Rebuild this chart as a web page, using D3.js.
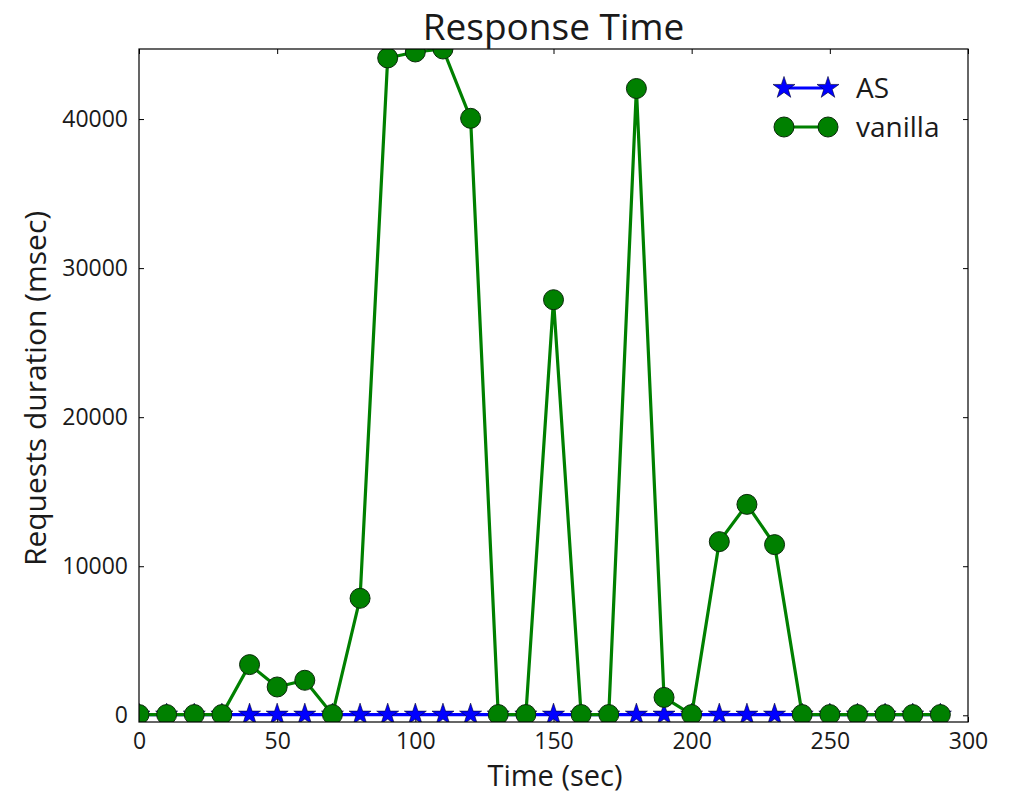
<!DOCTYPE html>
<html>
<head>
<meta charset="utf-8">
<script src="https://cdn.jsdelivr.net/npm/d3@7"></script>
<style>
  body { margin: 0; background: #fff; }
  text { font-family: "Open Sans", "DejaVu Sans", sans-serif; fill: #1a1a1a; }
</style>
</head>
<body>
<svg id="chart" width="1009" height="795"></svg>
<script>
const times = d3.range(0, 300, 10);
const asValues = [40, 40, 40, 40, 40, 40, 40, 40, 40, 40,
                  40, 40, 40, 40, 40, 40, 40, 40, 40, 40,
                  40, 40, 40, 40, 40, 40, 40, 40, 40, 40];
const vanillaValues = [50, 50, 50, 50, 3400, 1900, 2350, 50, 7850, 44100,
                       44500, 44700, 40050, 50, 50, 27880, 50, 50, 42050, 1200,
                       50, 11650, 14150, 11450, 50, 50, 50, 50, 50, 50];
const xTicks = [0, 50, 100, 150, 200, 250, 300];
const yTicks = [0, 10000, 20000, 30000, 40000];

const svg = d3.select("#chart");
const plotLeft = 139, plotRight = 968, plotTop = 49, plotBottom = 722;

const x = d3.scaleLinear().domain([0, 300]).range([plotLeft, plotRight]);
const y = d3.scaleLinear().domain([-450, 44700]).range([plotBottom, plotTop]);

// clip so markers at the top edge get cut like the reference
svg.append("clipPath").attr("id", "plotClip")
    .append("rect")
    .attr("x", plotLeft).attr("y", plotTop)
    .attr("width", plotRight - plotLeft).attr("height", plotBottom - plotTop);

// ticks inside the frame, on all four sides
const tickLen = 5;
svg.append("g")
    .attr("transform", `translate(0,${plotBottom})`)
    .call(d3.axisBottom(x).tickValues(xTicks).tickSizeInner(-tickLen).tickSizeOuter(0).tickPadding(11))
    .call(g => g.select(".domain").remove())
    .call(g => g.selectAll("text").attr("font-size", "23px"));
svg.append("g")
    .attr("transform", `translate(0,${plotTop})`)
    .call(d3.axisTop(x).tickValues(xTicks).tickSizeInner(-tickLen).tickSizeOuter(0).tickFormat(""))
    .call(g => g.select(".domain").remove());
svg.append("g")
    .attr("transform", `translate(${plotLeft},0)`)
    .call(d3.axisLeft(y).tickValues(yTicks).tickSizeInner(-tickLen).tickSizeOuter(0).tickPadding(11).tickFormat(d3.format("d")))
    .call(g => g.select(".domain").remove())
    .call(g => g.selectAll("text").attr("font-size", "23px"));
svg.append("g")
    .attr("transform", `translate(${plotRight},0)`)
    .call(d3.axisRight(y).tickValues(yTicks).tickSizeInner(-tickLen).tickSizeOuter(0).tickFormat(""))
    .call(g => g.select(".domain").remove());

const plot = svg.append("g").attr("clip-path", "url(#plotClip)");

const line = d3.line()
    .x(d => x(d.t))
    .y(d => y(d.v));

const asData = times.map((t, i) => ({t, v: asValues[i]}));
const vanData = times.map((t, i) => ({t, v: vanillaValues[i]}));

const star = d3.symbol().type(d3.symbolStar).size(150);

// AS series
plot.append("path")
    .datum(asData)
    .attr("fill", "none")
    .attr("stroke", "#0000ff")
    .attr("stroke-width", 3.2)
    .attr("d", line);
plot.selectAll(".asStar")
    .data(asData)
    .enter()
    .append("path")
    .attr("class", "asStar")
    .attr("d", star)
    .attr("transform", d => `translate(${x(d.t)},${y(d.v)})`)
    .attr("fill", "#0000ff")
    .attr("stroke", "#000033")
    .attr("stroke-width", 0.6);

// vanilla series
plot.append("path")
    .datum(vanData)
    .attr("fill", "none")
    .attr("stroke", "#008000")
    .attr("stroke-width", 3.2)
    .attr("d", line);
plot.selectAll(".vanDot")
    .data(vanData)
    .enter()
    .append("circle")
    .attr("class", "vanDot")
    .attr("cx", d => x(d.t))
    .attr("cy", d => y(d.v))
    .attr("r", 10)
    .attr("fill", "#008000")
    .attr("stroke", "#0a2a0a")
    .attr("stroke-width", 1);

// frame
svg.append("rect")
    .attr("x", plotLeft).attr("y", plotTop)
    .attr("width", plotRight - plotLeft).attr("height", plotBottom - plotTop)
    .attr("fill", "none")
    .attr("stroke", "#000")
    .attr("stroke-width", 1.2);

// legend
const legend = svg.append("g");
const legItems = [
    {name: "AS", color: "#0000ff", kind: "star", y: 88},
    {name: "vanilla", color: "#008000", kind: "circle", y: 127}
];
legItems.forEach(it => {
    legend.append("line")
        .attr("x1", 784).attr("x2", 828)
        .attr("y1", it.y).attr("y2", it.y)
        .attr("stroke", it.color).attr("stroke-width", 3.2);
    [784, 828].forEach(cx => {
        if (it.kind === "star") {
            legend.append("path")
                .attr("d", star)
                .attr("transform", `translate(${cx},${it.y})`)
                .attr("fill", it.color).attr("stroke", "#000033").attr("stroke-width", 0.6);
        } else {
            legend.append("circle")
                .attr("cx", cx).attr("cy", it.y).attr("r", 10)
                .attr("fill", it.color).attr("stroke", "#0a2a0a").attr("stroke-width", 1);
        }
    });
    legend.append("text")
        .attr("x", 856).attr("y", it.y)
        .attr("dy", "0.35em")
        .attr("font-size", "28px")
        .text(it.name);
});

// titles
svg.append("text")
    .attr("x", (plotLeft + plotRight) / 2).attr("y", 40)
    .attr("text-anchor", "middle")
    .attr("font-size", "37px")
    .text("Response Time");
svg.append("text")
    .attr("x", 555).attr("y", 786)
    .attr("text-anchor", "middle")
    .attr("font-size", "29px")
    .text("Time (sec)");
svg.append("text")
    .attr("transform", `translate(46,${(plotTop + plotBottom) / 2 + 3}) rotate(-90)`)
    .attr("text-anchor", "middle")
    .attr("font-size", "30px")
    .text("Requests duration (msec)");
</script>
</body>
</html>
